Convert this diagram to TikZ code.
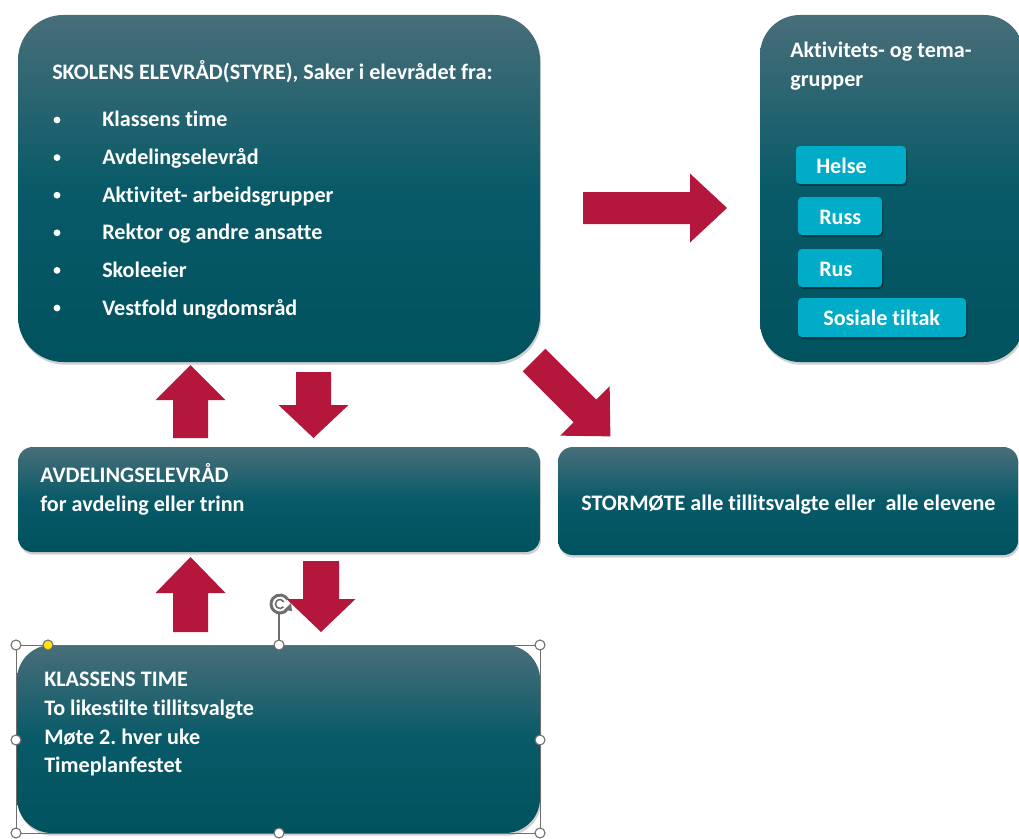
\documentclass[tikz,border=0pt]{standalone}
\usepackage{fontspec}
\setmainfont{Carlito}[Ligatures=NoCommon]
\usetikzlibrary{shadows}
\frenchspacing
\definecolor{crim}{RGB}{181,23,60}
\definecolor{tealtop}{RGB}{72,110,121}
\definecolor{tealmid}{RGB}{8,90,104}
\definecolor{tealbot}{RGB}{1,82,95}
\definecolor{cyanbox}{RGB}{0,172,200}
\definecolor{handle}{RGB}{110,110,110}
\newcommand\fatarr[7]{%
  \begin{scope}[shift={(#1,#2)},rotate=#3]
    \fill[crim] (0,{-#5/2}) -- ({#4-#7},{-#5/2}) -- ({#4-#7},{-#6/2}) -- (#4,0)
      -- ({#4-#7},{#6/2}) -- ({#4-#7},{#5/2}) -- (0,{#5/2}) -- cycle;
  \end{scope}}
\tikzset{
  panel/.style={rounded corners=#1, top color=tealtop, bottom color=tealbot, middle color=tealmid,
    drop shadow={opacity=0.3, shadow xshift=0.8pt, shadow yshift=-2pt, fill=black!60}},
  tag/.style={rounded corners=3pt, fill=cyanbox,
    drop shadow={opacity=0.35, shadow xshift=1pt, shadow yshift=-1.5pt, fill=black}},
  txt/.style={text=white, anchor=base west, inner sep=0pt, font=\frenchspacing\bfseries\fontsize{16.6}{19}\selectfont},
  hnd/.style={circle, draw=handle, fill=white, line width=0.8pt, minimum size=7.5pt, inner sep=0pt},
}
\begin{document}
\begin{tikzpicture}[x=0.75pt,y=-0.75pt]
\useasboundingbox (0,0) rectangle (1019,838);
\clip (0,0) rectangle (1019,838);
\fill[white] (0,0) rectangle (1019,838);

% panels
\path[panel=34pt] (18,15) rectangle (540,362);
\path[panel=30pt] (760,15) rectangle (1024,362);
\path[panel=11pt] (18,447) rectangle (540,552);
\path[panel=11pt] (558,447) rectangle (1018,555);
\path[panel=26pt] (17,645) rectangle (540,833);

% main panel text
\node[txt] (title) at (52,80) {SKOLENS ELEVRÅD(STYRE), Saker i elevrådet fra:};
\foreach \t [count=\i] in {Klassens time, Avdelingselevråd, Aktivitet- arbeidsgrupper, Rektor og andre ansatte, Skoleeier, Vestfold ungdomsråd}{
  \fill[white] (57,{120+37.6*(\i-1)}) circle (3.4);
  \node[txt] (item\i) at (102,{127+37.6*(\i-1)}) {\t};
}

% activity panel
\node[txt] (akt1) at (790,58) {Aktivitets- og tema-};
\node[txt] (akt2) at (790,87) {grupper};
\path[tag] (796,146) rectangle (906,184);
\node[txt] (helse) at (816,173) {Helse};
\path[tag] (798,197) rectangle (882,235);
\node[txt] (russ) at (819,224) {Russ};
\path[tag] (798,249) rectangle (882,287);
\node[txt] (rus) at (819,276) {Rus};
\path[tag] (798,298) rectangle (966,337);
\node[txt] (sos) at (823,325) {Sosiale tiltak};

% avdeling
\node[txt] (avd1) at (40,482) {AVDELINGSELEVRÅD};
\node[txt] (avd2) at (40,511) {for avdeling eller trinn};

% stormøte
\node[txt] (storm) at (581,510) {STORMØTE alle tillitsvalgte eller\ \ alle elevene};

% klassens time
\node[txt] (kt1) at (44,686) {KLASSENS TIME};
\node[txt] (kt2) at (44,715) {To likestilte tillitsvalgte};
\node[txt] (kt3) at (44,744) {Møte 2. hver uke};
\node[txt] (kt4) at (44,772) {Timeplanfestet};

% block arrows
\fatarr{583}{208}{0}{144}{32}{69}{37}
\fatarr{190.5}{438}{90}{73}{35}{70}{35}
\fatarr{313.5}{372}{-90}{66}{35}{70}{33}
\fatarr{534}{360}{-45}{108}{32}{70}{36}
\fatarr{190.5}{632}{90}{75}{35}{70}{36}
\fatarr{321}{561}{-90}{71}{36}{69}{33}

% selection frame
\draw[handle, line width=0.6pt] (16,645) rectangle (540,833);
\draw[handle, line width=0.8pt] (279,614) -- (279,645);
\draw[handle, line width=2.2pt] (280,604) ++(40:9) arc (40:330:9);
\draw[handle, line width=1.2pt] (280,604) ++(40:4.5) arc (40:330:4.5);
\fill[handle] (291,603) -- (292,611) -- (284,610) -- cycle;
\foreach \p/\n in {{(16,645)}/a,{(279,645)}/b,{(540,645)}/c,{(16,740)}/d,{(540,740)}/e,{(16,833)}/f,{(279,833)}/g,{(540,833)}/h}{
  \node[hnd] (h\n) at \p {};
}
\node[hnd, fill=yellow!90!orange] (hy) at (48,645) {};
\end{tikzpicture}
\end{document}
